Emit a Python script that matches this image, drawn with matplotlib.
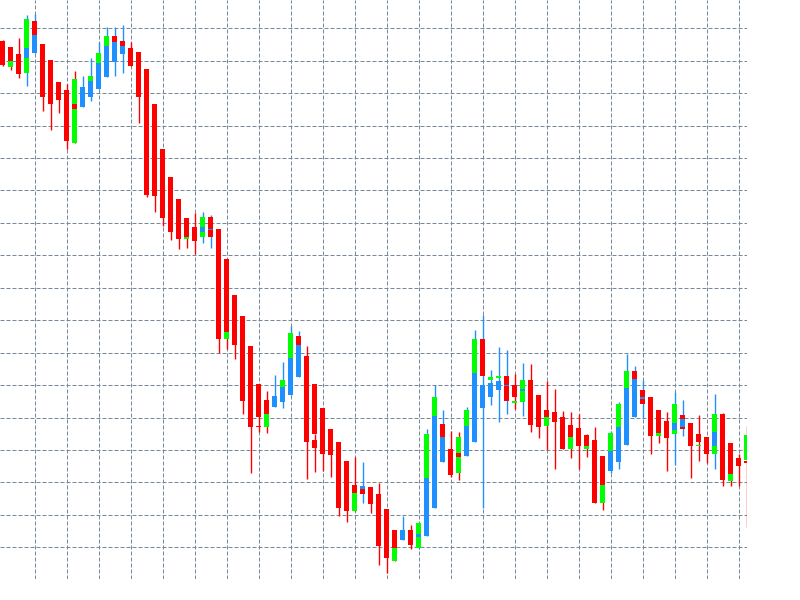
import numpy as np
import matplotlib
matplotlib.use('Agg')
import matplotlib.pyplot as plt

# Bar prices (chart units), one entry per candle, left to right
opens = [559, 553, 546, 542, 547, 556, 540, 518, 510, 496,
         493, 503, 511, 523, 538, 546, 552, 548, 531, 496,
         451, 423, 401, 382, 373, 368, 370.5, 371, 341, 305,
         284, 254, 174.5, 200, 193, 198, 205, 223, 244, 160,
         192, 171, 158, 139, 115, 111, 113, 106, 91, 70,
         60, 70, 63, 64, 92, 138, 151, 147, 144, 158,
         192, 203, 210, 214.5, 215, 209, 220, 205, 190, 188,
         183, 175, 172, 165, 160, 144, 129, 138, 155, 183,
         201, 203, 190, 179, 170, 173, 177, 166, 163, 154,
         186, 157, 142, 139]
highs = [560, 553, 562, 585, 586, 556, 540, 518, 516, 529,
         524, 542, 558, 573, 573, 575, 558, 548, 531, 496,
         451, 423, 401, 382, 387, 388, 385, 371, 341, 305,
         284, 254, 195, 209, 225, 238, 274, 269, 254, 166,
         192, 171, 158, 139, 143, 138, 113, 117, 91, 70,
         84, 75, 77, 171, 215, 190, 169, 168, 193, 270,
         285, 230, 253, 250, 226, 237, 236, 205, 219, 211,
         189, 188, 186, 166, 173, 144, 169, 198, 246, 234,
         220, 203, 190, 188, 208, 200, 177, 185, 163, 206,
         187, 157, 146, 174]
lows = [534, 530, 522, 514, 547, 489, 470, 487, 451, 457,
        493, 499, 511, 523, 524, 527, 534, 477, 403, 388,
        374, 360, 351, 352, 346, 357, 352, 247, 251, 241,
        186, 127, 168, 167, 193, 192, 205, 223, 121, 128,
        129, 123, 84, 78, 89, 97, 87, 35, 27, 39,
        60, 51, 51, 64, 92, 138, 123, 120, 144, 158,
        92, 195, 178, 186, 191, 184, 168, 162, 150, 131,
        151, 142, 131, 143, 97, 90, 127, 131, 155, 183,
        182, 146, 157, 129, 135, 164, 122, 139, 137, 131,
        114, 114, 114, 73]
closes = [535, 539, 526, 552, 565, 503, 496, 500, 459, 491,
          513, 519, 537, 554, 558, 554, 534, 503, 405, 404,
          382, 368, 361, 363, 359, 373, 371.5, 261, 268, 255,
          199, 173, 173.5, 186, 204, 213, 242, 255, 158, 152,
          146, 145, 92, 89, 107, 114, 96, 54, 42, 52,
          70, 55, 66, 122, 184, 163, 125, 143, 174, 227,
          215, 217, 219, 215.5, 203, 211, 175, 173, 183, 178,
          151, 163, 154, 154, 97, 115, 149, 173, 212, 221,
          203, 164, 167, 162, 177, 181, 154, 158, 146, 168,
          120, 126, 134, 137]

# Smoothed (Heiken Ashi style) bodies drawn under the bars
ha_open = [559, 533, 546, 527, 579, 556, 540, 518, 510, 457,
           495, 503, 511, 523, 564, 559, 552, 548, 531, 496,
           451, 423, 401, 361, 373, 363, 383, 371, 261, 305,
           284, 254, 216, 173, 195, 198, 205, 264, 244, 216,
           192, 171, 158, 139, 89, 114, 113, 106, 91, 39,
           62, 70, 52, 64, 92, 176, 151, 127, 144, 158,
           261, 220, 222, 224, 197, 198, 220, 205, 174, 188,
           183, 151, 172, 151, 160, 97, 129, 138, 155, 229,
           210, 203, 164, 179, 166, 185, 177, 154, 163, 146,
           186, 119, 142, 140]
ha_close = [535, 550, 526, 581, 560, 503, 496, 500, 459, 521,
            510, 524, 547, 564, 550, 550, 534, 503, 405, 404,
            382, 368, 361, 370, 359, 383, 363, 261, 280, 255,
            199, 173, 183, 195, 202, 220, 267, 250, 158, 166,
            146, 145, 92, 89, 115, 106, 96, 54, 42, 70,
            68, 55, 77, 166, 203, 160, 125, 163, 190, 261,
            224, 223, 224, 199, 199, 220, 175, 173, 190, 178,
            151, 175, 154, 160, 97, 130, 167, 196, 229, 215,
            196, 164, 180, 162, 196, 171, 154, 155, 146, 186,
            120, 150, 134, 165]

RED = '#ff0000'
GREEN = '#00ff00'
BLUE = '#1e90ff'
GRID = '#778899'

x = np.arange(len(opens))
o = np.array(opens, dtype=float)
c = np.array(closes, dtype=float)
hi = np.array(highs, dtype=float)
lo = np.array(lows, dtype=float)
hao = np.array(ha_open, dtype=float)
hac = np.array(ha_close, dtype=float)

bar_col = [BLUE if cc > oo else RED for oo, cc in zip(o, c)]
ha_col = [GREEN if cc > oo else RED for oo, cc in zip(hao, hac)]

fig = plt.figure(figsize=(8, 6), dpi=100)
fig.patch.set_facecolor('white')
ax = fig.add_axes([0, 21 / 600, 747 / 800, 579 / 600])
ax.set_facecolor('white')

w = 0.6
px = 0.72  # one pixel in points

# wicks first, then smoothed bodies, then the real bodies on top
for xi, l, hh, col in zip(x, lo, hi, bar_col):
    ax.plot([xi, xi], [l, hh], color=col, linewidth=1.0, zorder=2,
            solid_capstyle='butt')

ha_bot = np.minimum(hao, hac)
ha_h = np.maximum(np.abs(hac - hao), 1)
ax.bar(x, ha_h, bottom=ha_bot, width=w, color=ha_col, linewidth=0,
       zorder=3, antialiased=False)

bot = np.minimum(o, c)
h = np.maximum(np.abs(c - o), 1)
ax.bar(x, h, bottom=bot, width=w, color=bar_col, linewidth=0,
       zorder=4, antialiased=False)

ax.set_xlim(-2.5 / 8, (747 - 2.5) / 8)
ax.set_ylim(21, 600)

# dashed grid
ax.set_xticks(np.arange(4, 93, 4))
ax.set_yticks(571.7 - 32.44 * np.arange(17))
ax.grid(True, color=GRID, linewidth=px, linestyle=(0, (4, 2)), zorder=1)
ax.set_axisbelow(True)
ax.tick_params(length=0, labelbottom=False, labelleft=False)
for s in ax.spines.values():
    s.set_visible(False)

plt.savefig('out.png', dpi=100, facecolor='white')
